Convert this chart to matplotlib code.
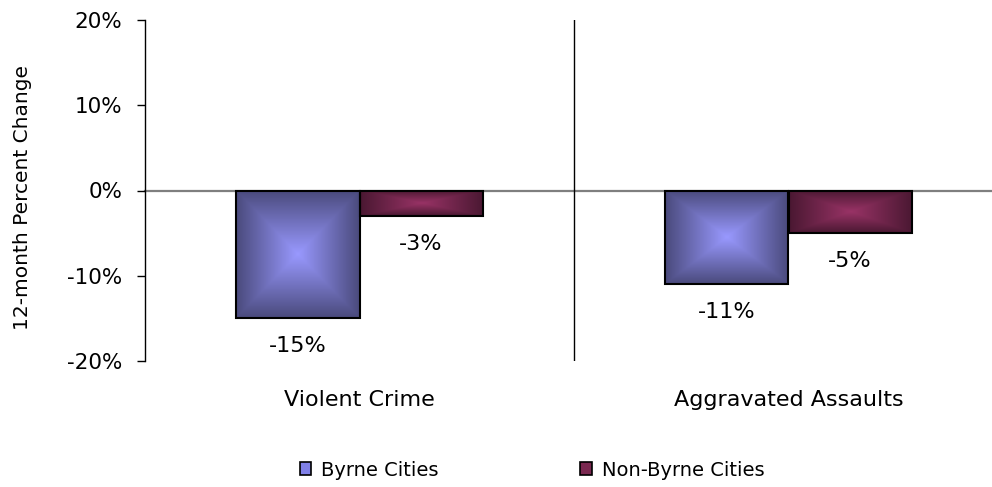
import numpy as np
import matplotlib
matplotlib.use("Agg")
import matplotlib.pyplot as plt
from matplotlib.patches import Patch
from matplotlib.colors import to_rgb

plt.rcParams['font.family'] = ['DejaVu Sans']

categories = ["Violent Crime", "Aggravated Assaults"]
series_names = ["Byrne Cities", "Non-Byrne Cities"]
byrne = [-15, -11]
non_byrne = [-3, -5]
yticks = [-20, -10, 0, 10, 20]

center_cols = ["#9999FF", "#993366"]
edge_cols = ["#4A4A7C", "#4A1832"]

W, H = 992, 487
fig = plt.figure(figsize=(W / 100, H / 100), dpi=100)
ax = fig.add_axes([145 / W, (H - 361) / H, 858 / W, 341 / H])

x = np.arange(len(categories))
bw = 0.287
for i, (vals, cc, ec) in enumerate(zip([byrne, non_byrne], center_cols, edge_cols)):
    bars = ax.bar(x + (i - 0.5) * bw, vals, width=bw, facecolor='none',
                  edgecolor='black', linewidth=1.5, zorder=3)
    c0 = np.array(to_rgb(cc))
    c1 = np.array(to_rgb(ec))
    for b in bars:
        bx, by = b.get_x(), b.get_y()
        bwid, bh = b.get_width(), b.get_height()
        n = 200
        u = np.linspace(-1, 1, n)
        U, V = np.meshgrid(u, u)
        t = np.maximum(np.abs(U), np.abs(V))
        img = c0[None, None, :] * (1 - t[..., None]) + c1[None, None, :] * t[..., None]
        y0, y1 = sorted([by, by + bh])
        ax.imshow(img, extent=[bx, bx + bwid, y0, y1], aspect='auto',
                  interpolation='bilinear', zorder=2)
        val = by + bh
        ax.annotate(f"{val:.0f}%", (bx + bwid / 2, min(by, by + bh)),
                    xytext=(0, -13), textcoords='offset points',
                    ha='center', va='top', fontsize=16)

ax.set_xlim(-0.5, 1.5)
ax.set_ylim(-20, 20)
ax.set_yticks(yticks)
ax.set_yticklabels([f"{v}%" for v in yticks], fontsize=15.5)
ax.tick_params(axis='y', direction='out', length=5.8, width=1, pad=10.5)
ax.set_xticks(x)
ax.set_xticklabels(categories, fontsize=16)
ax.tick_params(axis='x', length=0, pad=21)
for s in ['top', 'right', 'bottom']:
    ax.spines[s].set_visible(False)
ax.spines['left'].set_linewidth(1)
ax.axhline(0, color='#7f7f7f', linewidth=1.6, zorder=1, clip_on=False)
ax.axvline(0.5, color='black', linewidth=1, zorder=1)
fig.text(23 / W, 1 - 198 / H, "12-month Percent Change", rotation=90,
         ha='center', va='center', fontsize=14.5)

handles = [Patch(facecolor=c, edgecolor='black', linewidth=1.2) for c in ["#8080E8", "#7A2850"]]
fig.legend(handles, series_names, loc='center', bbox_to_anchor=(532 / W, 1 - 470 / H),
           ncol=2, frameon=False, fontsize=14, handlelength=0.6, handleheight=0.6,
           handletextpad=0.5, columnspacing=7.3)

fig.savefig("out.png", dpi=100)
